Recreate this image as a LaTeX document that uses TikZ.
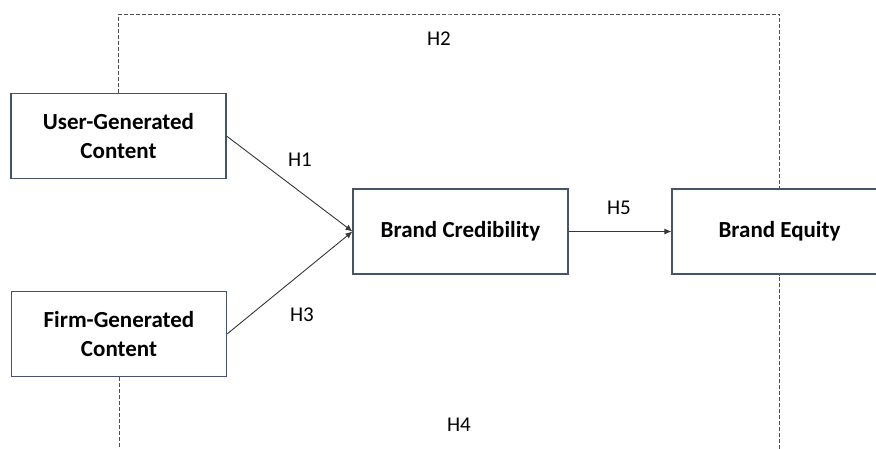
\documentclass[tikz,border=0pt]{standalone}
\usepackage{fontspec}
\setmainfont{Carlito}
\usetikzlibrary{arrows.meta}
\usetikzlibrary{positioning}
\definecolor{boxline}{RGB}{68,84,106}
\definecolor{linkgray}{RGB}{55,55,55}
\definecolor{hypgray}{RGB}{80,80,80}

\begin{document}
\begin{tikzpicture}[x=1pt,y=-1pt,
  construct/.style={
    rectangle,
    draw=boxline,
    line width=1.1pt,
    minimum width=215pt,
    minimum height=85pt,
    inner sep=0pt,
    align=center,
    font=\fontsize{23}{29}\selectfont\bfseries},
  hyp/.style={font=\fontsize{21}{24}\selectfont},
  link/.style={draw=linkgray, line width=0.9pt, -{Latex[length=7pt,width=6pt]}},
  hidden/.style={draw=hypgray, line width=1pt, dash pattern=on 4pt off 2pt}]
  \useasboundingbox (0,0) rectangle (876,448);
  \clip (0,0) rectangle (876,448);
  % draw construct boxes
  \foreach \name/\x/\y/\txt in {ugc/118.5/136/{User-Generated\\Content},
                                fgc/119/334/{Firm-Generated\\Content},
                                bc/460.5/231.5/{Brand Credibility},
                                be/779.5/231.5/{Brand Equity}}
    \node[construct] (\name) at (\x,\y) {\txt};
  % draw hypothesis labels
  \foreach \i/\x/\y in {1/300/160, 2/439/39, 3/302/315, 4/459/425, 5/619/208}
    \node[hyp] (h\i) at (\x,\y) {H\i};
  % draw direct links into brand credibility
  \foreach \src in {ugc,fgc}
    \draw[link] (\src.east) -- (bc.west);
  \draw[link] (bc.east) -- (be.west);
  % draw dashed links running round the model
  \coordinate (top) at (450,14);
  \coordinate (bottom) at (450,470);
  \draw[hidden] (ugc.north) |- (top) -| (be.north);
  \draw[hidden] (fgc.south) |- (bottom) -| (be.south);
\end{tikzpicture}
\end{document}
